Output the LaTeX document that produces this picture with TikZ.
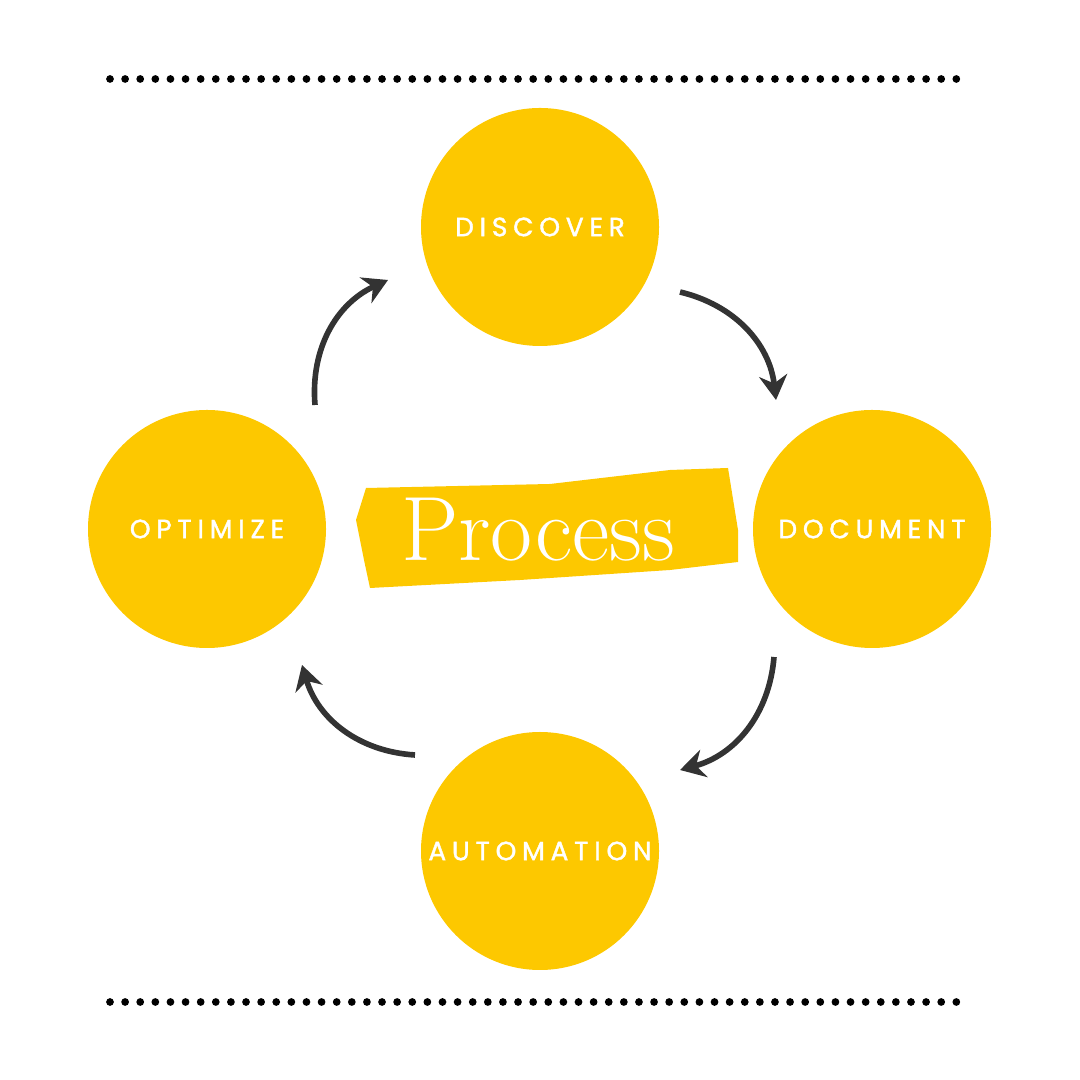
\documentclass[tikz,border=0pt]{standalone}
\usepackage{fontspec}
\setsansfont[LetterSpace=22,FakeBold=1.5]{Poppins}
\usetikzlibrary{arrows.meta}
\definecolor{gold}{HTML}{FDC800}
\definecolor{ink}{HTML}{333333}

\begin{document}
\begin{tikzpicture}[
		thick
	]
	  	\tikzstyle{stage}=[
	  		circle,
	  		fill=gold,
	  		minimum size=2.38cm,
	  		inner sep=0pt,
	  		text=white,
	  		font=\sffamily\fontsize{7.5}{8}\selectfont
	  	]
	  	\tikzstyle{loop}=[
	  		ink,
	  		line width=1.6pt,
	  		-{Stealth[length=7pt,width=8pt]}
	  	]
	  	\tikzstyle{rule}=[
	  		line width=2.2pt,
	  		line cap=round,
	  		dash pattern=on 0pt off 4.3pt
	  	]
	  	\useasboundingbox (0,0) rectangle (10.8,10.8);
	  	\draw[rule] (1.10,10.01) -- (9.62,10.01);
	  	\draw[rule] (1.10,0.78) -- (9.62,0.78);
	  	\node[stage] (discover) at (5.40,8.53) {DISCOVER};
	  	\node[stage] (document) at (8.72,5.51) {DOCUMENT};
	  	\node[stage] (automation) at (5.40,2.29) {AUTOMATION};
	  	\node[stage] (optimize) at (2.07,5.51) {OPTIMIZE};
	  	% banner
	  	\fill[gold] (3.66,5.92) -- (5.50,5.96) -- (6.70,6.10) -- (7.28,6.12)
	  		-- (7.38,5.50) -- (7.38,5.18) -- (6.70,5.10) -- (5.20,5.00)
	  		-- (3.70,4.92) -- (3.64,5.20) -- (3.56,5.60) -- cycle;
	  	\node[text=white,font=\fontsize{26}{28}\selectfont] (process) at (5.38,5.50) {Process};
	  	\coordinate (a1) at (6.80,7.88);
	  	\coordinate (b1) at (7.76,6.80);
	  	\coordinate (a2) at (7.74,4.23);
	  	\coordinate (b2) at (6.80,3.10);
	  	\coordinate (a3) at (4.15,3.25);
	  	\coordinate (b3) at (3.02,4.15);
	  	\coordinate (a4) at (3.15,6.75);
	  	\coordinate (b4) at (3.88,8.00);
	  	\draw[loop] (a1) to[bend left=35] (b1);
	  	\draw[loop] (a2) to[bend left=35] (b2);
	  	\draw[loop] (a3) to[bend left=35] (b3);
	  	\draw[loop] (a4) to[bend left=35] (b4);
	\end{tikzpicture}
\end{document}
